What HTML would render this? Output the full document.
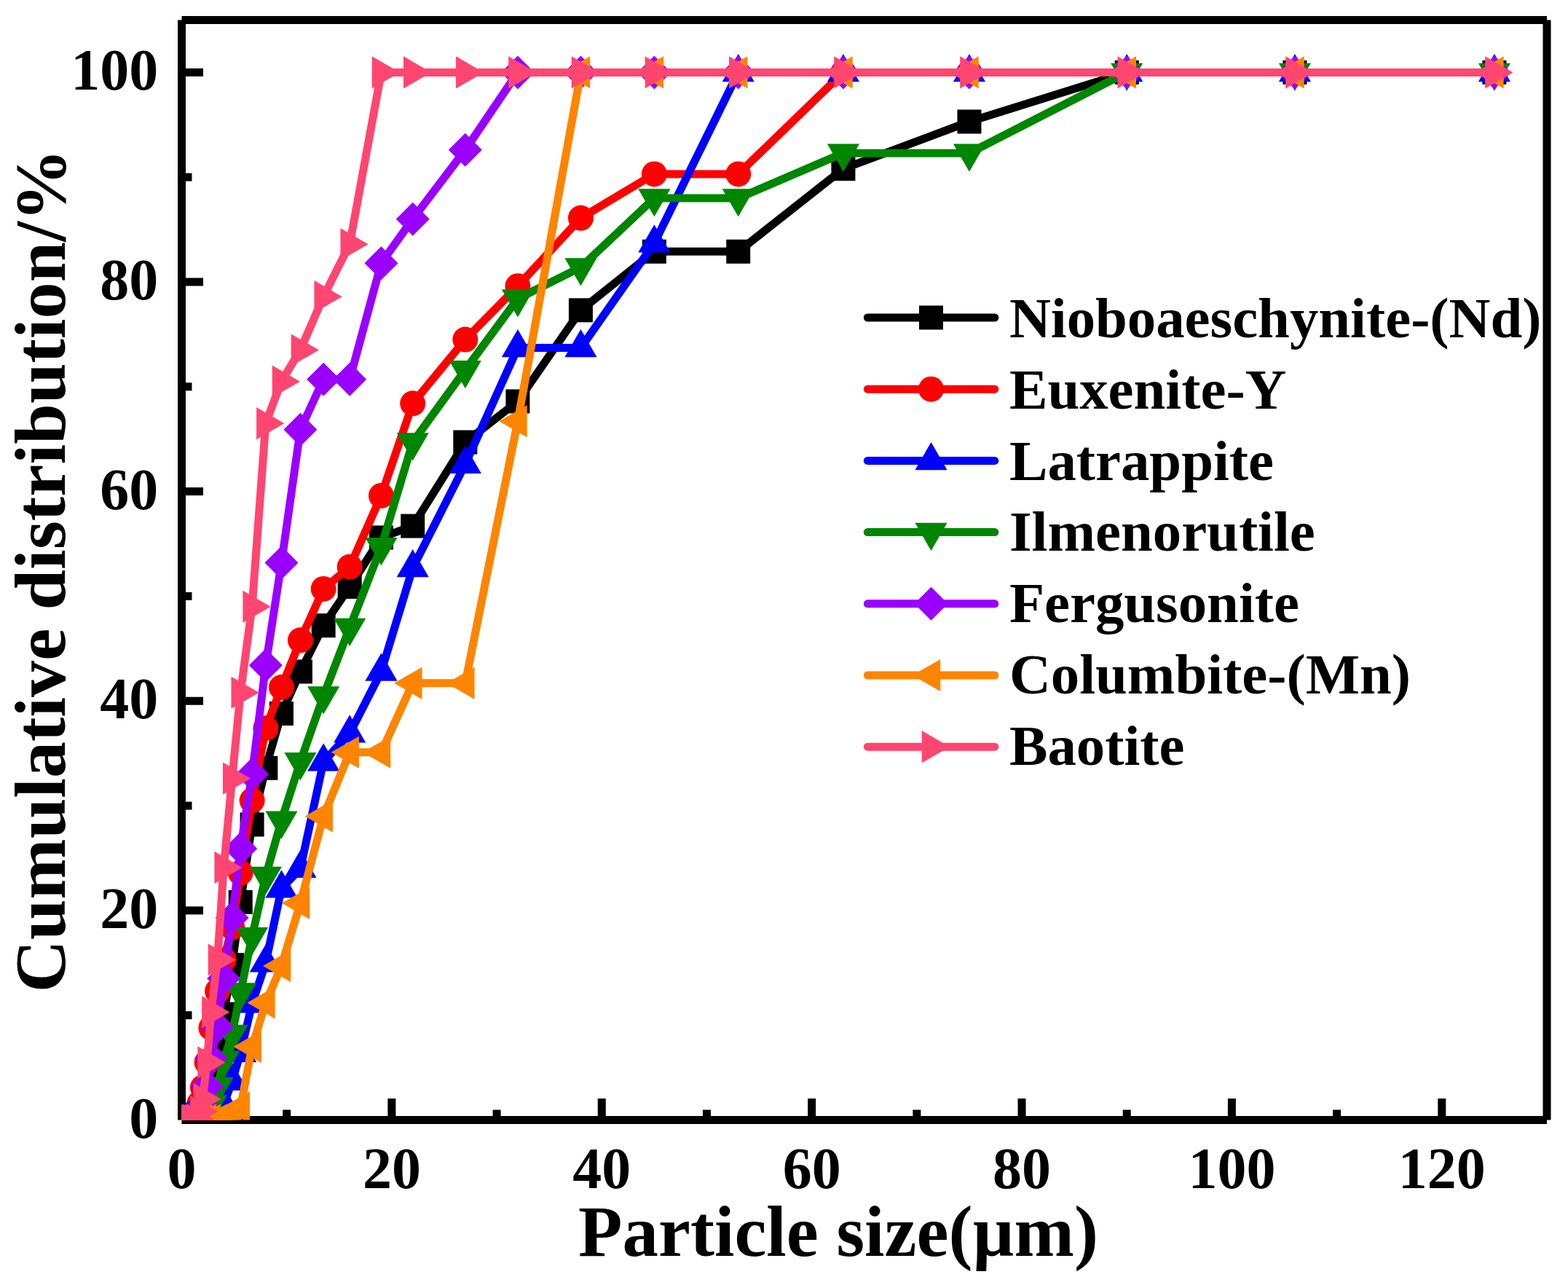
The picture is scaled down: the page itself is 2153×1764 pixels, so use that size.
<!DOCTYPE html>
<html><head><meta charset="utf-8"><title>Cumulative distribution</title>
<style>html,body{margin:0;padding:0;background:#fff;}body{width:2153px;height:1764px;overflow:hidden;}svg{display:block;}</style>
</head><body><svg width="2153" height="1764" viewBox="0 0 2153 1764"><g stroke="#000" stroke-width="11" stroke-linecap="butt"><line x1="249.5" y1="27.5" x2="249.5" y2="1537.5"/><line x1="249.5" y1="1537.5" x2="2124.0" y2="1537.5"/><line x1="249.5" y1="27.5" x2="2124.0" y2="27.5"/><line x1="2124.0" y1="27.5" x2="2124.0" y2="1537.5"/><line x1="393.69" y1="1537.5" x2="393.69" y2="1523.5"/><line x1="537.88" y1="1537.5" x2="537.88" y2="1508.0"/><line x1="682.08" y1="1537.5" x2="682.08" y2="1523.5"/><line x1="826.27" y1="1537.5" x2="826.27" y2="1508.0"/><line x1="970.46" y1="1537.5" x2="970.46" y2="1523.5"/><line x1="1114.65" y1="1537.5" x2="1114.65" y2="1508.0"/><line x1="1258.85" y1="1537.5" x2="1258.85" y2="1523.5"/><line x1="1403.04" y1="1537.5" x2="1403.04" y2="1508.0"/><line x1="1547.23" y1="1537.5" x2="1547.23" y2="1523.5"/><line x1="1691.42" y1="1537.5" x2="1691.42" y2="1508.0"/><line x1="1835.62" y1="1537.5" x2="1835.62" y2="1523.5"/><line x1="1979.81" y1="1537.5" x2="1979.81" y2="1508.0"/><line x1="249.5" y1="1393.69" x2="263.5" y2="1393.69"/><line x1="249.5" y1="1249.88" x2="279.0" y2="1249.88"/><line x1="249.5" y1="1106.07" x2="263.5" y2="1106.07"/><line x1="249.5" y1="962.26" x2="279.0" y2="962.26"/><line x1="249.5" y1="818.45" x2="263.5" y2="818.45"/><line x1="249.5" y1="674.64" x2="279.0" y2="674.64"/><line x1="249.5" y1="530.83" x2="263.5" y2="530.83"/><line x1="249.5" y1="387.02" x2="279.0" y2="387.02"/><line x1="249.5" y1="243.21" x2="263.5" y2="243.21"/><line x1="249.5" y1="99.40" x2="279.0" y2="99.40"/></g><g font-family="Liberation Serif, Times New Roman, serif" font-weight="bold" font-size="80" fill="#000"><text x="249.50" y="1631" text-anchor="middle">0</text><text x="537.88" y="1631" text-anchor="middle">20</text><text x="826.27" y="1631" text-anchor="middle">40</text><text x="1114.65" y="1631" text-anchor="middle">60</text><text x="1403.04" y="1631" text-anchor="middle">80</text><text x="1691.42" y="1631" text-anchor="middle">100</text><text x="1979.81" y="1631" text-anchor="middle">120</text><text x="217.3" y="1561.50" text-anchor="end">0</text><text x="217.3" y="1273.88" text-anchor="end">20</text><text x="217.3" y="986.26" text-anchor="end">40</text><text x="217.3" y="698.64" text-anchor="end">60</text><text x="217.3" y="411.02" text-anchor="end">80</text><text x="217.3" y="123.40" text-anchor="end">100</text></g><text x="794" y="1723.8" font-family="Liberation Serif, Times New Roman, serif" font-weight="bold" font-size="99" fill="#000">Particle size(µm)</text><text transform="translate(89.0,1362.5) rotate(-90)" x="0" y="0" font-family="Liberation Serif, Times New Roman, serif" font-weight="bold" font-size="100" fill="#000">Cumulative distribution/%</text><clipPath id="c"><rect x="249.5" y="27.5" width="1874.5" height="1510"/></clipPath><g clip-path="url(#c)"><polyline points="2051.90,99.40 1777.94,99.40 1547.23,99.40 1330.94,167.00 1157.91,231.71 1013.72,345.32 898.37,345.32 797.43,425.85 710.92,550.97 638.82,607.05 566.72,722.10 523.47,737.92 480.21,805.51 444.16,858.72 412.44,922.00 386.48,979.52 364.85,1054.30 346.11,1131.96 330.25,1238.38 318.71,1324.66 307.18,1392.25 298.53,1433.96 289.87,1469.91 284.11,1501.55 278.34,1520.24 274.01,1530.31 269.69,1537.50 266.80,1537.50 263.92,1537.50 261.61,1537.50 259.74,1537.50 258.15,1537.50 256.71,1537.50" fill="none" stroke="#000000" stroke-width="11" stroke-linejoin="round" stroke-linecap="round"/><rect x="2035.40" y="82.90" width="33.0" height="33.0" fill="#000000"/><rect x="1761.44" y="82.90" width="33.0" height="33.0" fill="#000000"/><rect x="1530.73" y="82.90" width="33.0" height="33.0" fill="#000000"/><rect x="1314.44" y="150.50" width="33.0" height="33.0" fill="#000000"/><rect x="1141.41" y="215.21" width="33.0" height="33.0" fill="#000000"/><rect x="997.22" y="328.82" width="33.0" height="33.0" fill="#000000"/><rect x="881.87" y="328.82" width="33.0" height="33.0" fill="#000000"/><rect x="780.93" y="409.35" width="33.0" height="33.0" fill="#000000"/><rect x="694.42" y="534.47" width="33.0" height="33.0" fill="#000000"/><rect x="622.32" y="590.55" width="33.0" height="33.0" fill="#000000"/><rect x="550.22" y="705.60" width="33.0" height="33.0" fill="#000000"/><rect x="506.97" y="721.42" width="33.0" height="33.0" fill="#000000"/><rect x="463.71" y="789.01" width="33.0" height="33.0" fill="#000000"/><rect x="427.66" y="842.22" width="33.0" height="33.0" fill="#000000"/><rect x="395.94" y="905.50" width="33.0" height="33.0" fill="#000000"/><rect x="369.98" y="963.02" width="33.0" height="33.0" fill="#000000"/><rect x="348.35" y="1037.80" width="33.0" height="33.0" fill="#000000"/><rect x="329.61" y="1115.46" width="33.0" height="33.0" fill="#000000"/><rect x="313.75" y="1221.88" width="33.0" height="33.0" fill="#000000"/><rect x="302.21" y="1308.16" width="33.0" height="33.0" fill="#000000"/><rect x="290.68" y="1375.75" width="33.0" height="33.0" fill="#000000"/><rect x="282.03" y="1417.46" width="33.0" height="33.0" fill="#000000"/><rect x="273.37" y="1453.41" width="33.0" height="33.0" fill="#000000"/><rect x="267.61" y="1485.05" width="33.0" height="33.0" fill="#000000"/><rect x="261.84" y="1503.74" width="33.0" height="33.0" fill="#000000"/><rect x="257.51" y="1513.81" width="33.0" height="33.0" fill="#000000"/><rect x="253.19" y="1521.00" width="33.0" height="33.0" fill="#000000"/><rect x="250.30" y="1521.00" width="33.0" height="33.0" fill="#000000"/><rect x="247.42" y="1521.00" width="33.0" height="33.0" fill="#000000"/><rect x="245.11" y="1521.00" width="33.0" height="33.0" fill="#000000"/><rect x="243.24" y="1521.00" width="33.0" height="33.0" fill="#000000"/><rect x="241.65" y="1521.00" width="33.0" height="33.0" fill="#000000"/><rect x="240.21" y="1521.00" width="33.0" height="33.0" fill="#000000"/><polyline points="2051.90,99.40 1777.94,99.40 1547.23,99.40 1330.94,99.40 1157.91,99.40 1013.72,238.90 898.37,238.90 797.43,299.30 710.92,392.78 638.82,466.12 566.72,553.84 523.47,680.40 480.21,778.19 444.16,808.39 412.44,878.85 386.48,943.57 364.85,999.65 346.11,1098.88 330.25,1198.11 318.71,1272.89 307.18,1317.47 298.53,1360.61 289.87,1410.95 284.11,1458.40 278.34,1492.92 274.01,1514.49 269.69,1528.87 266.80,1537.50 263.92,1537.50 261.61,1537.50 259.74,1537.50 258.15,1537.50 256.71,1537.50" fill="none" stroke="#ff0000" stroke-width="11" stroke-linejoin="round" stroke-linecap="round"/><circle cx="2051.90" cy="99.40" r="17.5" fill="#ff0000"/><circle cx="1777.94" cy="99.40" r="17.5" fill="#ff0000"/><circle cx="1547.23" cy="99.40" r="17.5" fill="#ff0000"/><circle cx="1330.94" cy="99.40" r="17.5" fill="#ff0000"/><circle cx="1157.91" cy="99.40" r="17.5" fill="#ff0000"/><circle cx="1013.72" cy="238.90" r="17.5" fill="#ff0000"/><circle cx="898.37" cy="238.90" r="17.5" fill="#ff0000"/><circle cx="797.43" cy="299.30" r="17.5" fill="#ff0000"/><circle cx="710.92" cy="392.78" r="17.5" fill="#ff0000"/><circle cx="638.82" cy="466.12" r="17.5" fill="#ff0000"/><circle cx="566.72" cy="553.84" r="17.5" fill="#ff0000"/><circle cx="523.47" cy="680.40" r="17.5" fill="#ff0000"/><circle cx="480.21" cy="778.19" r="17.5" fill="#ff0000"/><circle cx="444.16" cy="808.39" r="17.5" fill="#ff0000"/><circle cx="412.44" cy="878.85" r="17.5" fill="#ff0000"/><circle cx="386.48" cy="943.57" r="17.5" fill="#ff0000"/><circle cx="364.85" cy="999.65" r="17.5" fill="#ff0000"/><circle cx="346.11" cy="1098.88" r="17.5" fill="#ff0000"/><circle cx="330.25" cy="1198.11" r="17.5" fill="#ff0000"/><circle cx="318.71" cy="1272.89" r="17.5" fill="#ff0000"/><circle cx="307.18" cy="1317.47" r="17.5" fill="#ff0000"/><circle cx="298.53" cy="1360.61" r="17.5" fill="#ff0000"/><circle cx="289.87" cy="1410.95" r="17.5" fill="#ff0000"/><circle cx="284.11" cy="1458.40" r="17.5" fill="#ff0000"/><circle cx="278.34" cy="1492.92" r="17.5" fill="#ff0000"/><circle cx="274.01" cy="1514.49" r="17.5" fill="#ff0000"/><circle cx="269.69" cy="1528.87" r="17.5" fill="#ff0000"/><circle cx="266.80" cy="1537.50" r="17.5" fill="#ff0000"/><circle cx="263.92" cy="1537.50" r="17.5" fill="#ff0000"/><circle cx="261.61" cy="1537.50" r="17.5" fill="#ff0000"/><circle cx="259.74" cy="1537.50" r="17.5" fill="#ff0000"/><circle cx="258.15" cy="1537.50" r="17.5" fill="#ff0000"/><circle cx="256.71" cy="1537.50" r="17.5" fill="#ff0000"/><polyline points="2051.90,99.40 1777.94,99.40 1547.23,99.40 1330.94,99.40 1157.91,99.40 1013.72,99.40 898.37,333.81 797.43,477.62 710.92,477.62 638.82,637.25 566.72,779.62 523.47,922.00 480.21,1006.84 444.16,1045.67 412.44,1192.36 386.48,1219.68 364.85,1321.79 346.11,1377.87 330.25,1445.46 318.71,1484.29 307.18,1515.93 298.53,1530.31 289.87,1537.50 284.11,1537.50 278.34,1537.50 274.01,1537.50 269.69,1537.50 266.80,1537.50 263.92,1537.50 261.61,1537.50 259.74,1537.50 258.15,1537.50 256.71,1537.50" fill="none" stroke="#0000ff" stroke-width="11" stroke-linejoin="round" stroke-linecap="round"/><polygon points="2051.90,73.90 2073.99,112.15 2029.82,112.15" fill="#0000ff"/><polygon points="1777.94,73.90 1800.02,112.15 1755.85,112.15" fill="#0000ff"/><polygon points="1547.23,73.90 1569.31,112.15 1525.15,112.15" fill="#0000ff"/><polygon points="1330.94,73.90 1353.03,112.15 1308.86,112.15" fill="#0000ff"/><polygon points="1157.91,73.90 1180.00,112.15 1135.83,112.15" fill="#0000ff"/><polygon points="1013.72,73.90 1035.80,112.15 991.64,112.15" fill="#0000ff"/><polygon points="898.37,308.31 920.45,346.56 876.28,346.56" fill="#0000ff"/><polygon points="797.43,452.12 819.51,490.37 775.35,490.37" fill="#0000ff"/><polygon points="710.92,452.12 733.00,490.37 688.83,490.37" fill="#0000ff"/><polygon points="638.82,611.75 660.90,650.00 616.74,650.00" fill="#0000ff"/><polygon points="566.72,754.12 588.81,792.37 544.64,792.37" fill="#0000ff"/><polygon points="523.47,896.50 545.55,934.75 501.38,934.75" fill="#0000ff"/><polygon points="480.21,981.34 502.29,1019.59 458.12,1019.59" fill="#0000ff"/><polygon points="444.16,1020.17 466.24,1058.42 422.08,1058.42" fill="#0000ff"/><polygon points="412.44,1166.86 434.52,1205.11 390.35,1205.11" fill="#0000ff"/><polygon points="386.48,1194.18 408.57,1232.43 364.40,1232.43" fill="#0000ff"/><polygon points="364.85,1296.29 386.94,1334.54 342.77,1334.54" fill="#0000ff"/><polygon points="346.11,1352.37 368.19,1390.62 324.03,1390.62" fill="#0000ff"/><polygon points="330.25,1419.96 352.33,1458.21 308.16,1458.21" fill="#0000ff"/><polygon points="318.71,1458.79 340.80,1497.04 296.63,1497.04" fill="#0000ff"/><polygon points="307.18,1490.43 329.26,1528.68 285.09,1528.68" fill="#0000ff"/><polygon points="298.53,1504.81 320.61,1543.06 276.44,1543.06" fill="#0000ff"/><polygon points="289.87,1512.00 311.96,1550.25 267.79,1550.25" fill="#0000ff"/><polygon points="284.11,1512.00 306.19,1550.25 262.02,1550.25" fill="#0000ff"/><polygon points="278.34,1512.00 300.42,1550.25 256.25,1550.25" fill="#0000ff"/><polygon points="274.01,1512.00 296.10,1550.25 251.93,1550.25" fill="#0000ff"/><polygon points="269.69,1512.00 291.77,1550.25 247.60,1550.25" fill="#0000ff"/><polygon points="266.80,1512.00 288.89,1550.25 244.72,1550.25" fill="#0000ff"/><polygon points="263.92,1512.00 286.00,1550.25 241.84,1550.25" fill="#0000ff"/><polygon points="261.61,1512.00 283.70,1550.25 239.53,1550.25" fill="#0000ff"/><polygon points="259.74,1512.00 281.82,1550.25 237.65,1550.25" fill="#0000ff"/><polygon points="258.15,1512.00 280.24,1550.25 236.07,1550.25" fill="#0000ff"/><polygon points="256.71,1512.00 278.79,1550.25 234.63,1550.25" fill="#0000ff"/><polyline points="2051.90,99.40 1777.94,99.40 1547.23,99.40 1330.94,210.14 1157.91,210.14 1013.72,271.98 898.37,271.98 797.43,366.89 710.92,410.03 638.82,507.82 566.72,607.05 523.47,750.86 480.21,861.60 444.16,955.07 412.44,1045.67 386.48,1126.20 364.85,1202.42 346.11,1285.83 330.25,1362.05 318.71,1419.58 307.18,1455.53 298.53,1491.48 289.87,1515.93 284.11,1530.31 278.34,1537.50 274.01,1537.50 269.69,1537.50 266.80,1537.50 263.92,1537.50 261.61,1537.50 259.74,1537.50 258.15,1537.50 256.71,1537.50" fill="none" stroke="#008600" stroke-width="11" stroke-linejoin="round" stroke-linecap="round"/><polygon points="2051.90,124.90 2073.99,86.65 2029.82,86.65" fill="#008600"/><polygon points="1777.94,124.90 1800.02,86.65 1755.85,86.65" fill="#008600"/><polygon points="1547.23,124.90 1569.31,86.65 1525.15,86.65" fill="#008600"/><polygon points="1330.94,235.64 1353.03,197.39 1308.86,197.39" fill="#008600"/><polygon points="1157.91,235.64 1180.00,197.39 1135.83,197.39" fill="#008600"/><polygon points="1013.72,297.48 1035.80,259.23 991.64,259.23" fill="#008600"/><polygon points="898.37,297.48 920.45,259.23 876.28,259.23" fill="#008600"/><polygon points="797.43,392.39 819.51,354.14 775.35,354.14" fill="#008600"/><polygon points="710.92,435.53 733.00,397.28 688.83,397.28" fill="#008600"/><polygon points="638.82,533.32 660.90,495.07 616.74,495.07" fill="#008600"/><polygon points="566.72,632.55 588.81,594.30 544.64,594.30" fill="#008600"/><polygon points="523.47,776.36 545.55,738.11 501.38,738.11" fill="#008600"/><polygon points="480.21,887.10 502.29,848.85 458.12,848.85" fill="#008600"/><polygon points="444.16,980.57 466.24,942.32 422.08,942.32" fill="#008600"/><polygon points="412.44,1071.17 434.52,1032.92 390.35,1032.92" fill="#008600"/><polygon points="386.48,1151.70 408.57,1113.45 364.40,1113.45" fill="#008600"/><polygon points="364.85,1227.92 386.94,1189.67 342.77,1189.67" fill="#008600"/><polygon points="346.11,1311.33 368.19,1273.08 324.03,1273.08" fill="#008600"/><polygon points="330.25,1387.55 352.33,1349.30 308.16,1349.30" fill="#008600"/><polygon points="318.71,1445.08 340.80,1406.83 296.63,1406.83" fill="#008600"/><polygon points="307.18,1481.03 329.26,1442.78 285.09,1442.78" fill="#008600"/><polygon points="298.53,1516.98 320.61,1478.73 276.44,1478.73" fill="#008600"/><polygon points="289.87,1541.43 311.96,1503.18 267.79,1503.18" fill="#008600"/><polygon points="284.11,1555.81 306.19,1517.56 262.02,1517.56" fill="#008600"/><polygon points="278.34,1563.00 300.42,1524.75 256.25,1524.75" fill="#008600"/><polygon points="274.01,1563.00 296.10,1524.75 251.93,1524.75" fill="#008600"/><polygon points="269.69,1563.00 291.77,1524.75 247.60,1524.75" fill="#008600"/><polygon points="266.80,1563.00 288.89,1524.75 244.72,1524.75" fill="#008600"/><polygon points="263.92,1563.00 286.00,1524.75 241.84,1524.75" fill="#008600"/><polygon points="261.61,1563.00 283.70,1524.75 239.53,1524.75" fill="#008600"/><polygon points="259.74,1563.00 281.82,1524.75 237.65,1524.75" fill="#008600"/><polygon points="258.15,1563.00 280.24,1524.75 236.07,1524.75" fill="#008600"/><polygon points="256.71,1563.00 278.79,1524.75 234.63,1524.75" fill="#008600"/><polyline points="2051.90,99.40 1777.94,99.40 1547.23,99.40 1330.94,99.40 1157.91,99.40 1013.72,99.40 898.37,99.40 797.43,99.40 710.92,99.40 638.82,205.82 566.72,300.74 523.47,361.14 480.21,520.77 444.16,520.77 412.44,589.80 386.48,772.43 364.85,913.37 346.11,1062.93 330.25,1165.03 318.71,1259.95 307.18,1343.36 298.53,1409.51 289.87,1452.65 284.11,1491.48 278.34,1518.80 274.01,1531.75 269.69,1537.50 266.80,1537.50 263.92,1537.50 261.61,1537.50 259.74,1537.50 258.15,1537.50 256.71,1537.50" fill="none" stroke="#9900ff" stroke-width="11" stroke-linejoin="round" stroke-linecap="round"/><polygon points="2051.90,76.40 2074.90,99.40 2051.90,122.40 2028.90,99.40" fill="#9900ff"/><polygon points="1777.94,76.40 1800.94,99.40 1777.94,122.40 1754.94,99.40" fill="#9900ff"/><polygon points="1547.23,76.40 1570.23,99.40 1547.23,122.40 1524.23,99.40" fill="#9900ff"/><polygon points="1330.94,76.40 1353.94,99.40 1330.94,122.40 1307.94,99.40" fill="#9900ff"/><polygon points="1157.91,76.40 1180.91,99.40 1157.91,122.40 1134.91,99.40" fill="#9900ff"/><polygon points="1013.72,76.40 1036.72,99.40 1013.72,122.40 990.72,99.40" fill="#9900ff"/><polygon points="898.37,76.40 921.37,99.40 898.37,122.40 875.37,99.40" fill="#9900ff"/><polygon points="797.43,76.40 820.43,99.40 797.43,122.40 774.43,99.40" fill="#9900ff"/><polygon points="710.92,76.40 733.92,99.40 710.92,122.40 687.92,99.40" fill="#9900ff"/><polygon points="638.82,182.82 661.82,205.82 638.82,228.82 615.82,205.82" fill="#9900ff"/><polygon points="566.72,277.74 589.72,300.74 566.72,323.74 543.72,300.74" fill="#9900ff"/><polygon points="523.47,338.14 546.47,361.14 523.47,384.14 500.47,361.14" fill="#9900ff"/><polygon points="480.21,497.77 503.21,520.77 480.21,543.77 457.21,520.77" fill="#9900ff"/><polygon points="444.16,497.77 467.16,520.77 444.16,543.77 421.16,520.77" fill="#9900ff"/><polygon points="412.44,566.80 435.44,589.80 412.44,612.80 389.44,589.80" fill="#9900ff"/><polygon points="386.48,749.43 409.48,772.43 386.48,795.43 363.48,772.43" fill="#9900ff"/><polygon points="364.85,890.37 387.85,913.37 364.85,936.37 341.85,913.37" fill="#9900ff"/><polygon points="346.11,1039.93 369.11,1062.93 346.11,1085.93 323.11,1062.93" fill="#9900ff"/><polygon points="330.25,1142.03 353.25,1165.03 330.25,1188.03 307.25,1165.03" fill="#9900ff"/><polygon points="318.71,1236.95 341.71,1259.95 318.71,1282.95 295.71,1259.95" fill="#9900ff"/><polygon points="307.18,1320.36 330.18,1343.36 307.18,1366.36 284.18,1343.36" fill="#9900ff"/><polygon points="298.53,1386.51 321.53,1409.51 298.53,1432.51 275.53,1409.51" fill="#9900ff"/><polygon points="289.87,1429.65 312.87,1452.65 289.87,1475.65 266.87,1452.65" fill="#9900ff"/><polygon points="284.11,1468.48 307.11,1491.48 284.11,1514.48 261.11,1491.48" fill="#9900ff"/><polygon points="278.34,1495.80 301.34,1518.80 278.34,1541.80 255.34,1518.80" fill="#9900ff"/><polygon points="274.01,1508.75 297.01,1531.75 274.01,1554.75 251.01,1531.75" fill="#9900ff"/><polygon points="269.69,1514.50 292.69,1537.50 269.69,1560.50 246.69,1537.50" fill="#9900ff"/><polygon points="266.80,1514.50 289.80,1537.50 266.80,1560.50 243.80,1537.50" fill="#9900ff"/><polygon points="263.92,1514.50 286.92,1537.50 263.92,1560.50 240.92,1537.50" fill="#9900ff"/><polygon points="261.61,1514.50 284.61,1537.50 261.61,1560.50 238.61,1537.50" fill="#9900ff"/><polygon points="259.74,1514.50 282.74,1537.50 259.74,1560.50 236.74,1537.50" fill="#9900ff"/><polygon points="258.15,1514.50 281.15,1537.50 258.15,1560.50 235.15,1537.50" fill="#9900ff"/><polygon points="256.71,1514.50 279.71,1537.50 256.71,1560.50 233.71,1537.50" fill="#9900ff"/><polyline points="2051.90,99.40 1777.94,99.40 1547.23,99.40 1330.94,99.40 1157.91,99.40 1013.72,99.40 898.37,99.40 797.43,99.40 710.92,578.29 638.82,937.81 566.72,937.81 523.47,1032.73 480.21,1032.73 444.16,1120.45 412.44,1239.81 386.48,1326.10 364.85,1376.43 346.11,1436.83 330.25,1520.24 318.71,1537.50 307.18,1537.50 298.53,1537.50 289.87,1537.50 284.11,1537.50 278.34,1537.50 274.01,1537.50 269.69,1537.50 266.80,1537.50 263.92,1537.50 261.61,1537.50 259.74,1537.50 258.15,1537.50 256.71,1537.50" fill="none" stroke="#ff8400" stroke-width="11" stroke-linejoin="round" stroke-linecap="round"/><polygon points="2026.40,99.40 2064.65,77.32 2064.65,121.49" fill="#ff8400"/><polygon points="1752.44,99.40 1790.69,77.32 1790.69,121.49" fill="#ff8400"/><polygon points="1521.73,99.40 1559.98,77.32 1559.98,121.49" fill="#ff8400"/><polygon points="1305.44,99.40 1343.69,77.32 1343.69,121.49" fill="#ff8400"/><polygon points="1132.41,99.40 1170.66,77.32 1170.66,121.49" fill="#ff8400"/><polygon points="988.22,99.40 1026.47,77.32 1026.47,121.49" fill="#ff8400"/><polygon points="872.87,99.40 911.12,77.32 911.12,121.49" fill="#ff8400"/><polygon points="771.93,99.40 810.18,77.32 810.18,121.49" fill="#ff8400"/><polygon points="685.42,578.29 723.67,556.21 723.67,600.37" fill="#ff8400"/><polygon points="613.32,937.81 651.57,915.73 651.57,959.90" fill="#ff8400"/><polygon points="541.22,937.81 579.47,915.73 579.47,959.90" fill="#ff8400"/><polygon points="497.97,1032.73 536.22,1010.64 536.22,1054.81" fill="#ff8400"/><polygon points="454.71,1032.73 492.96,1010.64 492.96,1054.81" fill="#ff8400"/><polygon points="418.66,1120.45 456.91,1098.37 456.91,1142.54" fill="#ff8400"/><polygon points="386.94,1239.81 425.19,1217.73 425.19,1261.90" fill="#ff8400"/><polygon points="360.98,1326.10 399.23,1304.02 399.23,1348.18" fill="#ff8400"/><polygon points="339.35,1376.43 377.60,1354.35 377.60,1398.52" fill="#ff8400"/><polygon points="320.61,1436.83 358.86,1414.75 358.86,1458.92" fill="#ff8400"/><polygon points="304.75,1520.24 343.00,1498.16 343.00,1542.33" fill="#ff8400"/><polygon points="293.21,1537.50 331.46,1515.42 331.46,1559.58" fill="#ff8400"/><polygon points="281.68,1537.50 319.93,1515.42 319.93,1559.58" fill="#ff8400"/><polygon points="273.03,1537.50 311.28,1515.42 311.28,1559.58" fill="#ff8400"/><polygon points="264.37,1537.50 302.62,1515.42 302.62,1559.58" fill="#ff8400"/><polygon points="258.61,1537.50 296.86,1515.42 296.86,1559.58" fill="#ff8400"/><polygon points="252.84,1537.50 291.09,1515.42 291.09,1559.58" fill="#ff8400"/><polygon points="248.51,1537.50 286.76,1515.42 286.76,1559.58" fill="#ff8400"/><polygon points="244.19,1537.50 282.44,1515.42 282.44,1559.58" fill="#ff8400"/><polygon points="241.30,1537.50 279.55,1515.42 279.55,1559.58" fill="#ff8400"/><polygon points="238.42,1537.50 276.67,1515.42 276.67,1559.58" fill="#ff8400"/><polygon points="236.11,1537.50 274.36,1515.42 274.36,1559.58" fill="#ff8400"/><polygon points="234.24,1537.50 272.49,1515.42 272.49,1559.58" fill="#ff8400"/><polygon points="232.65,1537.50 270.90,1515.42 270.90,1559.58" fill="#ff8400"/><polygon points="231.21,1537.50 269.46,1515.42 269.46,1559.58" fill="#ff8400"/><polyline points="2051.90,99.40 1777.94,99.40 1547.23,99.40 1330.94,99.40 1157.91,99.40 1013.72,99.40 898.37,99.40 797.43,99.40 710.92,99.40 638.82,99.40 566.72,99.40 523.47,99.40 480.21,335.25 444.16,407.16 412.44,480.50 386.48,523.64 364.85,581.17 346.11,832.83 330.25,950.76 318.71,1068.68 307.18,1190.92 298.53,1317.47 289.87,1389.38 284.11,1458.40 278.34,1508.74 274.01,1526.00 269.69,1537.50 266.80,1537.50 263.92,1537.50 261.61,1537.50 259.74,1537.50 258.15,1537.50 256.71,1537.50" fill="none" stroke="#ff4670" stroke-width="11" stroke-linejoin="round" stroke-linecap="round"/><polygon points="2077.40,99.40 2039.15,77.32 2039.15,121.49" fill="#ff4670"/><polygon points="1803.44,99.40 1765.19,77.32 1765.19,121.49" fill="#ff4670"/><polygon points="1572.73,99.40 1534.48,77.32 1534.48,121.49" fill="#ff4670"/><polygon points="1356.44,99.40 1318.19,77.32 1318.19,121.49" fill="#ff4670"/><polygon points="1183.41,99.40 1145.16,77.32 1145.16,121.49" fill="#ff4670"/><polygon points="1039.22,99.40 1000.97,77.32 1000.97,121.49" fill="#ff4670"/><polygon points="923.87,99.40 885.62,77.32 885.62,121.49" fill="#ff4670"/><polygon points="822.93,99.40 784.68,77.32 784.68,121.49" fill="#ff4670"/><polygon points="736.42,99.40 698.17,77.32 698.17,121.49" fill="#ff4670"/><polygon points="664.32,99.40 626.07,77.32 626.07,121.49" fill="#ff4670"/><polygon points="592.22,99.40 553.97,77.32 553.97,121.49" fill="#ff4670"/><polygon points="548.97,99.40 510.72,77.32 510.72,121.49" fill="#ff4670"/><polygon points="505.71,335.25 467.46,313.17 467.46,357.34" fill="#ff4670"/><polygon points="469.66,407.16 431.41,385.07 431.41,429.24" fill="#ff4670"/><polygon points="437.94,480.50 399.69,458.42 399.69,502.58" fill="#ff4670"/><polygon points="411.98,523.64 373.73,501.56 373.73,545.73" fill="#ff4670"/><polygon points="390.35,581.17 352.10,559.08 352.10,603.25" fill="#ff4670"/><polygon points="371.61,832.83 333.36,810.75 333.36,854.92" fill="#ff4670"/><polygon points="355.75,950.76 317.50,928.67 317.50,972.84" fill="#ff4670"/><polygon points="344.21,1068.68 305.96,1046.60 305.96,1090.76" fill="#ff4670"/><polygon points="332.68,1190.92 294.43,1168.84 294.43,1213.00" fill="#ff4670"/><polygon points="324.03,1317.47 285.78,1295.39 285.78,1339.56" fill="#ff4670"/><polygon points="315.37,1389.38 277.12,1367.29 277.12,1411.46" fill="#ff4670"/><polygon points="309.61,1458.40 271.36,1436.32 271.36,1480.49" fill="#ff4670"/><polygon points="303.84,1508.74 265.59,1486.65 265.59,1530.82" fill="#ff4670"/><polygon points="299.51,1526.00 261.26,1503.91 261.26,1548.08" fill="#ff4670"/><polygon points="295.19,1537.50 256.94,1515.42 256.94,1559.58" fill="#ff4670"/><polygon points="292.30,1537.50 254.05,1515.42 254.05,1559.58" fill="#ff4670"/><polygon points="289.42,1537.50 251.17,1515.42 251.17,1559.58" fill="#ff4670"/><polygon points="287.11,1537.50 248.86,1515.42 248.86,1559.58" fill="#ff4670"/><polygon points="285.24,1537.50 246.99,1515.42 246.99,1559.58" fill="#ff4670"/><polygon points="283.65,1537.50 245.40,1515.42 245.40,1559.58" fill="#ff4670"/><polygon points="282.21,1537.50 243.96,1515.42 243.96,1559.58" fill="#ff4670"/></g><line x1="1191.3" y1="436.00" x2="1365.8" y2="436.00" stroke="#000000" stroke-width="11" stroke-linecap="round"/><rect x="1262.00" y="419.50" width="33.0" height="33.0" fill="#000000"/><text x="1385.9" y="462.80" font-family="Liberation Serif, Times New Roman, serif" font-weight="bold" font-size="78.75" fill="#000">Nioboaeschynite-(Nd)</text><line x1="1191.3" y1="534.20" x2="1365.8" y2="534.20" stroke="#ff0000" stroke-width="11" stroke-linecap="round"/><circle cx="1278.50" cy="534.20" r="17.5" fill="#ff0000"/><text x="1385.9" y="560.65" font-family="Liberation Serif, Times New Roman, serif" font-weight="bold" font-size="78.75" fill="#000">Euxenite-Y</text><line x1="1191.3" y1="632.40" x2="1365.8" y2="632.40" stroke="#0000ff" stroke-width="11" stroke-linecap="round"/><polygon points="1278.50,606.90 1300.58,645.15 1256.42,645.15" fill="#0000ff"/><text x="1385.9" y="658.50" font-family="Liberation Serif, Times New Roman, serif" font-weight="bold" font-size="78.75" fill="#000">Latrappite</text><line x1="1191.3" y1="730.60" x2="1365.8" y2="730.60" stroke="#008600" stroke-width="11" stroke-linecap="round"/><polygon points="1278.50,756.10 1300.58,717.85 1256.42,717.85" fill="#008600"/><text x="1385.9" y="756.35" font-family="Liberation Serif, Times New Roman, serif" font-weight="bold" font-size="78.75" fill="#000">Ilmenorutile</text><line x1="1191.3" y1="828.80" x2="1365.8" y2="828.80" stroke="#9900ff" stroke-width="11" stroke-linecap="round"/><polygon points="1278.50,805.80 1301.50,828.80 1278.50,851.80 1255.50,828.80" fill="#9900ff"/><text x="1385.9" y="854.20" font-family="Liberation Serif, Times New Roman, serif" font-weight="bold" font-size="78.75" fill="#000">Fergusonite</text><line x1="1191.3" y1="927.00" x2="1365.8" y2="927.00" stroke="#ff8400" stroke-width="11" stroke-linecap="round"/><polygon points="1253.00,927.00 1291.25,904.92 1291.25,949.08" fill="#ff8400"/><text x="1385.9" y="952.05" font-family="Liberation Serif, Times New Roman, serif" font-weight="bold" font-size="78.75" fill="#000">Columbite-(Mn)</text><line x1="1191.3" y1="1025.20" x2="1365.8" y2="1025.20" stroke="#ff4670" stroke-width="11" stroke-linecap="round"/><polygon points="1304.00,1025.20 1265.75,1003.12 1265.75,1047.28" fill="#ff4670"/><text x="1385.9" y="1049.90" font-family="Liberation Serif, Times New Roman, serif" font-weight="bold" font-size="78.75" fill="#000">Baotite</text></svg></body></html>
